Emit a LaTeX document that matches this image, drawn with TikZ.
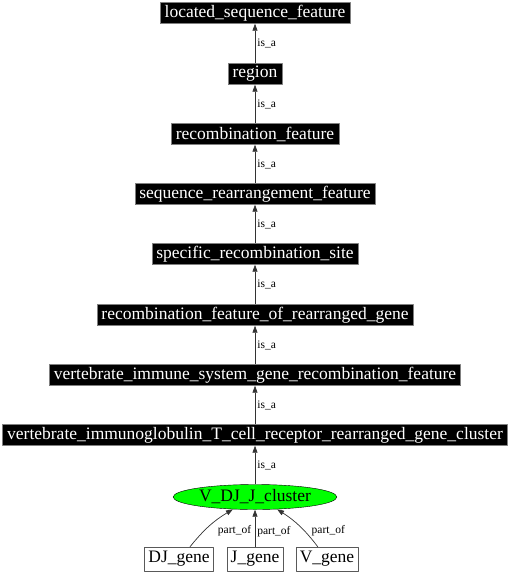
\documentclass[tikz,border=0pt]{standalone}
\usepackage{fontspec}
\setmainfont{Liberation Serif}
\usetikzlibrary{arrows.meta,shapes.geometric}
\begin{document}
\begin{tikzpicture}[x=1pt, y=-1pt, line join=round, >={Triangle[length=7pt,width=5pt]},
  term/.style={draw=gray, fill=black, text=white, inner xsep=4.5pt, inner ysep=0pt, minimum height=21pt, font=\fontsize{17.5}{19}\selectfont},
  gene/.style={draw=gray!70!black, fill=white, inner xsep=4pt, inner ysep=0pt, minimum height=24pt, font=\fontsize{17.5}{19}\selectfont},
  isa/.style={font=\fontsize{11.5}{13}\selectfont, right, inner sep=2pt},
  edge/.style={->, draw=black!80, line width=0.7pt}]
% Khung hình
\useasboundingbox (0,0) rectangle (510,576);
% Định nghĩa các nút
\def\cx{255}
\node[term] (lsf)  at (\cx,13)  {located\_sequence\_feature};
\node[term] (reg)  at (\cx,74)  {region};
\node[term] (rf)   at (\cx,134) {recombination\_feature};
\node[term] (srf)  at (\cx,194) {sequence\_rearrangement\_feature};
\node[term] (srs)  at (\cx,254) {specific\_recombination\_site};
\node[term] (rfrg) at (\cx,315) {recombination\_feature\_of\_rearranged\_gene};
\node[term] (vis)  at (\cx,375) {vertebrate\_immune\_system\_gene\_recombination\_feature};
\node[term] (vit)  at (\cx,435) {vertebrate\_immunoglobulin\_T\_cell\_receptor\_rearranged\_gene\_cluster};
\node[ellipse, draw=black, fill=green, inner xsep=2pt, inner ysep=0pt, minimum width=161pt, minimum height=25pt, font=\fontsize{17.5}{19}\selectfont] (vdj) at (\cx,497) {V\_DJ\_J\_cluster};
\node[gene] (dj) at (179,559) {DJ\_gene};
\node[gene] (j)  at (\cx,559) {J\_gene};
\node[gene] (v)  at (327,559) {V\_gene};
% Vẽ các quan hệ is_a
\draw[edge] (reg)  -- (lsf)  node[isa, midway] {is\_a};
\draw[edge] (rf)   -- (reg)  node[isa, midway] {is\_a};
\draw[edge] (srf)  -- (rf)   node[isa, midway] {is\_a};
\draw[edge] (srs)  -- (srf)  node[isa, midway] {is\_a};
\draw[edge] (rfrg) -- (srs)  node[isa, midway] {is\_a};
\draw[edge] (vis)  -- (rfrg) node[isa, midway] {is\_a};
\draw[edge] (vit)  -- (vis)  node[isa, midway] {is\_a};
\draw[edge] (vdj)  -- (vit)  node[isa, midway] {is\_a};
% Vẽ các quan hệ part_of
\draw[edge] (dj.48) to[bend left=10] node[isa, pos=0.5, xshift=6pt, yshift=-5pt] {part\_of} (vdj.209);
\draw[edge] (j)  -- (vdj) node[isa, midway, yshift=-3pt] {part\_of};
\draw[edge] (v.127) to[bend right=10] node[isa, pos=0.5, xshift=10pt, yshift=-5pt] {part\_of} (vdj.331);
\end{tikzpicture}
\end{document}
